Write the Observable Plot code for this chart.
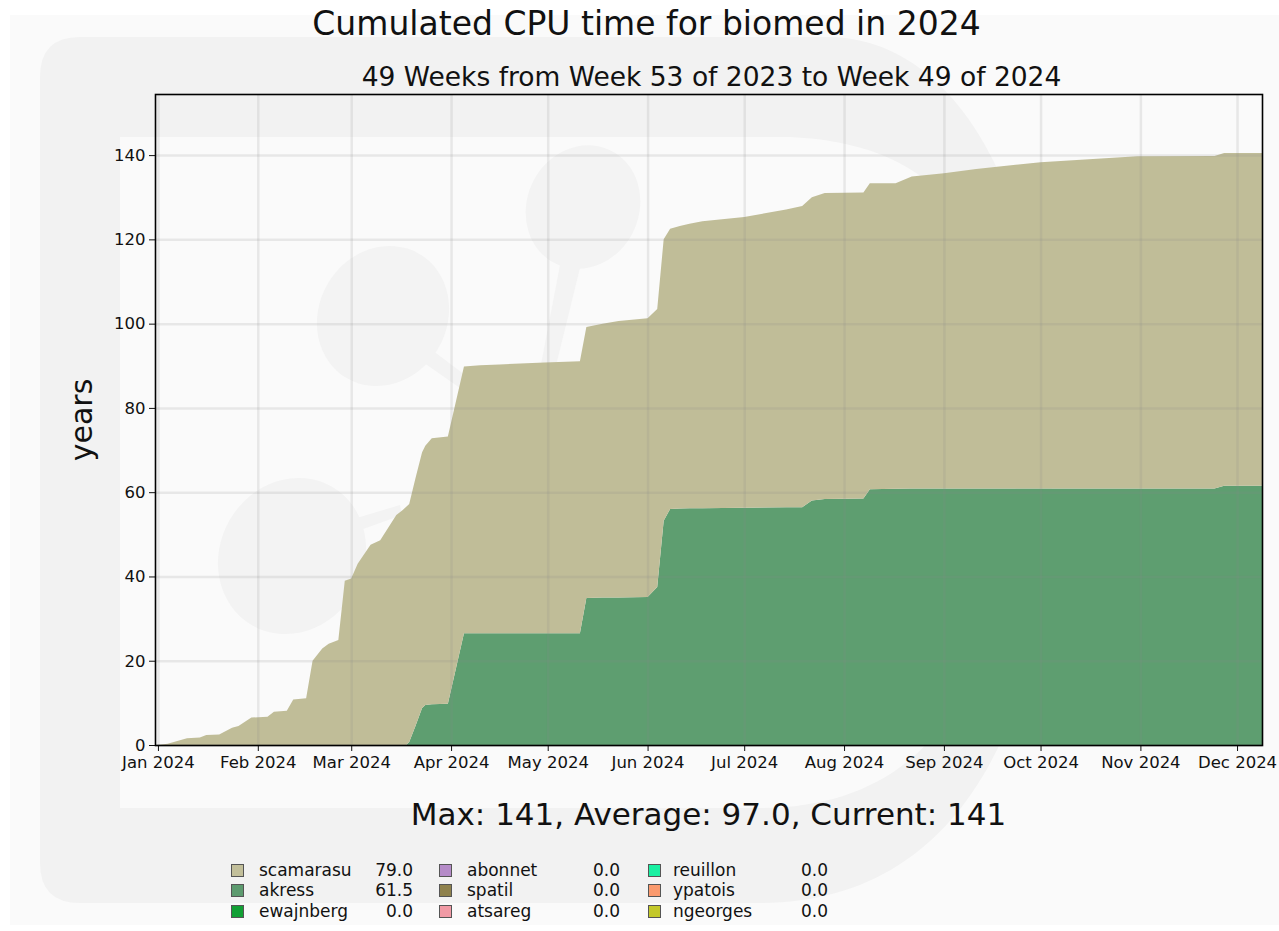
<!DOCTYPE html>
<html>
<head>
<meta charset="utf-8">
<script src="https://cdn.jsdelivr.net/npm/d3@7"></script>
<script src="https://cdn.jsdelivr.net/npm/@observablehq/plot@0.6"></script>
<style>
  html, body { margin:0; padding:0; background:#ffffff; }
  #page { position:relative; width:1279px; height:931px; overflow:hidden; font-family:"DejaVu Sans", sans-serif; color:#111; }
  .abs { position:absolute; white-space:nowrap; line-height:1; }
  #chart { position:absolute; left:0; top:60px; }
  .sw { position:absolute; width:11px; height:11px; border:1px solid #555; }
</style>
</head>
<body>
<div id="page">
  <svg class="abs" style="left:0;top:0" width="1279" height="931">
    <rect x="10" y="15" width="1269" height="910" fill="#fafafa"/>
    <path fill="#f2f2f2" fill-rule="evenodd" d="M40,77 Q40,37 80,37 L830,37 C960,40 1050,200 1052,460 C1052,720 960,903 760,903 L80,903 Q40,903 40,863 Z
      M120,137 L790,137 C900,142 1010,190 1018,420 C1018,650 950,808 760,808 L120,808 Z"/>
    <ellipse cx="383" cy="316" rx="64" ry="72" transform="rotate(30 383 316)" fill="#f3f3f3"/>
    <path d="M420,360 L470,395 L478,385 L432,350 Z" fill="#f3f3f3"/>
    <ellipse cx="583" cy="207" rx="56" ry="63" transform="rotate(25 583 207)" fill="#f3f3f3"/>
    <path d="M560,265 L538,380 L552,382 L580,268 Z" fill="#f3f3f3"/>
    <ellipse cx="292" cy="556" rx="72" ry="80" transform="rotate(30 292 556)" fill="#f3f3f3"/>
    <path d="M350,520 L400,505 L402,515 L355,532 Z" fill="#f3f3f3"/>
  </svg>
  <div class="abs" id="title" style="left:7px;top:7px;width:1279px;text-align:center;font-size:33px;">Cumulated CPU time for biomed in 2024</div>
  <div class="abs" id="subtitle" style="left:158px;top:64px;width:1107px;text-align:center;font-size:26.5px;">49 Weeks from Week 53 of 2023 to Week 49 of 2024</div>
  <div id="chart"></div>
  <div class="abs" id="ylabel" style="left:82px;top:420px;font-size:30px;transform:translate(-50%,-50%) rotate(-90deg);">years</div>
  <div class="abs" id="stat" style="left:155px;top:799px;width:1107px;text-align:center;font-size:31px;">Max: 141, Average: 97.0, Current: 141</div>
  <div id="legend"></div>
</div>
<script>
// ---- data (cumulative CPU years per user) ----
const dates = [
  "2024-01-01","2024-01-04","2024-01-10","2024-01-14","2024-01-16","2024-01-20","2024-01-24","2024-01-26","2024-01-30",
  "2024-02-04","2024-02-06","2024-02-10","2024-02-12","2024-02-16","2024-02-18","2024-02-21","2024-02-23","2024-02-26","2024-02-28",
  "2024-03-01","2024-03-03","2024-03-07","2024-03-10","2024-03-15","2024-03-17","2024-03-18","2024-03-19","2024-03-21","2024-03-23",
  "2024-03-24","2024-03-26","2024-03-31","2024-04-05","2024-04-10","2024-04-16","2024-04-30","2024-05-11","2024-05-13","2024-05-18",
  "2024-05-23","2024-06-01","2024-06-04","2024-06-06","2024-06-08","2024-06-11","2024-06-14","2024-06-18","2024-07-01","2024-07-14",
  "2024-07-19","2024-07-22","2024-07-26","2024-08-07","2024-08-09","2024-08-17","2024-08-22","2024-09-01","2024-09-11","2024-10-01",
  "2024-10-16","2024-10-31","2024-11-24","2024-11-27","2024-12-09"
];
const akress = [
  0,0,0,0,0,0,0,0,0,
  0,0,0,0,0,0,0,0,0,0,
  0,0,0,0,0,0,0,0.7,4.6,8.8,
  9.5,9.7,9.8,26.5,26.5,26.5,26.5,26.5,34.9,35.0,
  35.0,35.1,37.5,53.2,56.0,56.1,56.2,56.2,56.3,56.4,
  56.4,58.0,58.4,58.5,60.7,60.8,60.9,60.9,60.9,60.9,
  60.9,60.9,60.9,61.5,61.5
];
const scamarasu = [
  0,0.3,1.6,1.8,2.4,2.5,4.1,4.5,6.5,
  6.7,7.9,8.1,10.8,11.1,20.0,22.9,24.0,24.9,39.0,
  39.5,43.0,47.5,48.6,54.6,55.8,56.5,56.5,58.9,60.7,
  61.5,63.1,63.4,63.3,63.6,63.8,64.3,64.6,64.3,65.0,
  65.6,66.2,66.0,66.8,66.5,67.1,67.5,68.1,69.0,70.7,
  71.5,72.0,72.6,72.6,72.6,72.5,74.0,74.8,75.8,77.4,
  78.1,78.8,78.9,79.0,79.0
];
const stackOrder = ["akress", "scamarasu"];
const areaColors = ["#5e9e70", "#c0bd98"];
const yTicks = [0, 20, 40, 60, 80, 100, 120, 140];
const monthTicks = ["2024-01-01","2024-02-01","2024-03-01","2024-04-01","2024-05-01","2024-06-01",
  "2024-07-01","2024-08-01","2024-09-01","2024-10-01","2024-11-01","2024-12-01"];
const legendNames = ["scamarasu","akress","ewajnberg","abonnet","spatil","atsareg","reuillon","ypatois","ngeorges"];
const legendValues = ["79.0","61.5","0.0","0.0","0.0","0.0","0.0","0.0","0.0"];
const legendColors = ["#c2bf9a","#5d9b6f","#12a035","#b58bc8","#8f824d","#f19aa5","#1af0a2","#fa9a6e","#c3c82a"];

// ---- build table ----
const rows = dates.flatMap((d, i) => [
  {date: new Date(d), user: "akress", value: akress[i]},
  {date: new Date(d), user: "scamarasu", value: scamarasu[i]}
]);
const xTicks = monthTicks.map(d => new Date(d));

const chart = Plot.plot({
  width: 1279,
  height: 720,
  marginLeft: 155,
  marginRight: 17,
  marginTop: 34,
  marginBottom: 35,
  style: {background: "transparent", fontFamily: "DejaVu Sans, sans-serif", fontSize: "16.5px", color: "#111", overflow: "visible"},
  x: {type: "utc", domain: [new Date("2023-12-31T02:00Z"), new Date("2024-12-08T18:00Z")]},
  y: {domain: [0, 154.5]},
  color: {domain: stackOrder, range: areaColors},
  marks: [
    Plot.areaY(rows, {x: "date", y: "value", z: "user", fill: "user", order: stackOrder, curve: "linear", clip: true}),
    Plot.gridX(xTicks, {stroke: "#888", strokeOpacity: 0.16, strokeWidth: 2.5}),
    Plot.gridY(yTicks, {stroke: "#888", strokeOpacity: 0.16, strokeWidth: 2.5}),
    Plot.axisX(xTicks, {tickFormat: d3.utcFormat("%b %Y"), tickSize: 6, tickPadding: 5, label: null, stroke: "#111"}),
    Plot.axisY(yTicks, {tickSize: 6, tickPadding: 4, label: null, stroke: "#111"}),
    Plot.frame({stroke: "#000", strokeWidth: 1.6})
  ]
});
document.getElementById("chart").appendChild(chart);

// ---- legend ----
const legend = document.getElementById("legend");
const swLeft = [231, 439, 648], nameLeft = [259, 467, 673], valRight = [413, 620, 828];
const rowY = [870, 890, 911];
legendNames.forEach((name, i) => {
  const col = Math.floor(i / 3), row = i % 3;
  const sw = document.createElement("div");
  sw.className = "sw";
  sw.style.left = swLeft[col] + "px";
  sw.style.top = (rowY[row] - 6) + "px";
  sw.style.background = legendColors[i];
  legend.appendChild(sw);
  const nm = document.createElement("div");
  nm.className = "abs";
  nm.style.cssText = `left:${nameLeft[col]}px;top:${rowY[row] - 8}px;font-size:17px;`;
  nm.textContent = name;
  legend.appendChild(nm);
  const vl = document.createElement("div");
  vl.className = "abs";
  vl.style.cssText = `left:${valRight[col] - 80}px;width:80px;text-align:right;top:${rowY[row] - 8}px;font-size:17px;`;
  vl.textContent = legendValues[i];
  legend.appendChild(vl);
});
</script>
</body>
</html>
